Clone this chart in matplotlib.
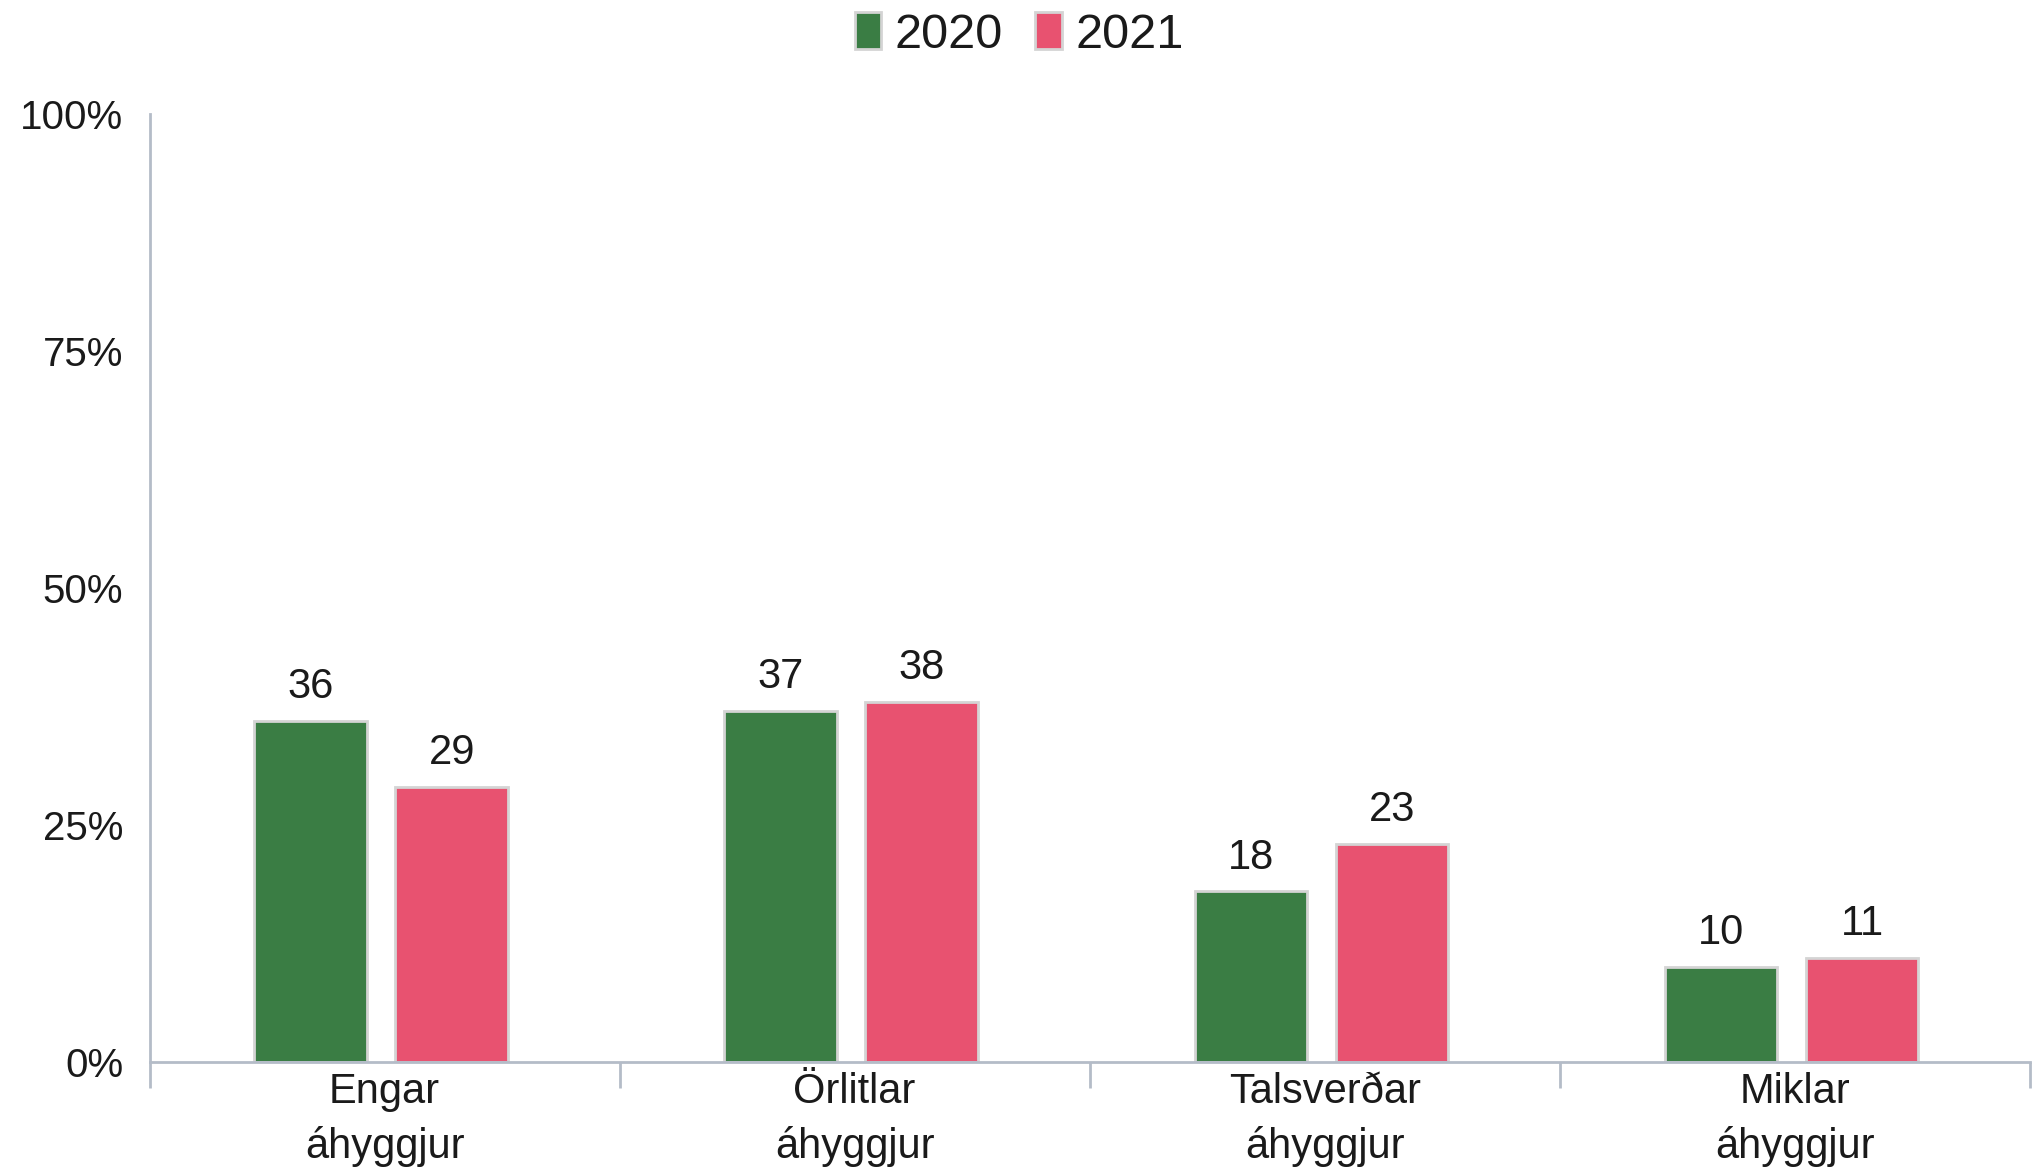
import numpy as np
import matplotlib
matplotlib.use("Agg")
import matplotlib.pyplot as plt
from matplotlib.ticker import FixedLocator, NullFormatter

categories = ["Engar\náhyggjur", "Örlitlar\náhyggjur", "Talsverðar\náhyggjur", "Miklar\náhyggjur"]
years = ["2020", "2021"]
values_2020 = [36, 37, 18, 10]
values_2021 = [29, 38, 23, 11]
yticks = [0, 25, 50, 75, 100]
ytick_labels = ["0%", "25%", "50%", "75%", "100%"]

GREEN = "#3a7d44"
PINK = "#e85270"
AXIS = "#b4bcc8"
TEXT = "#1a1a1a"

matplotlib.rcParams.update({
    "font.family": ["Liberation Sans", "DejaVu Sans"],
    "text.color": TEXT,
})

fig = plt.figure(figsize=(20.38, 11.68), dpi=100)
ax = fig.add_axes([0.0734, 0.0908, 0.9226, 0.8112])

x = np.arange(len(categories))
off = 0.15
w = 0.24
for vals, color, dx, name in [(values_2020, GREEN, -off, years[0]),
                               (values_2021, PINK, off, years[1])]:
    bars = ax.bar(x + dx - 0.007, vals, width=w, color=color, edgecolor="#d4d4d4",
                  linewidth=2.0, label=name, zorder=2)
    for b, v in zip(bars, vals):
        ax.annotate(f"{v}", (b.get_x() + b.get_width() / 2, v),
                    xytext=(0, 10), textcoords="offset points",
                    ha="center", va="bottom", fontsize=30, color=TEXT)

ax.set_xlim(-0.5, len(categories) - 0.5)
ax.set_ylim(0, 100)
ax.set_yticks(yticks)
ax.set_yticklabels(ytick_labels)
ax.tick_params(axis="y", length=0, pad=19, labelsize=29, labelcolor=TEXT)

# category boundaries as major ticks, labels on minor ticks at centres
ax.xaxis.set_major_locator(FixedLocator(np.arange(-0.5, len(categories), 1.0)))
ax.xaxis.set_major_formatter(NullFormatter())
ax.xaxis.set_minor_locator(FixedLocator(x))
ax.set_xticklabels(categories, minor=True)
ax.tick_params(axis="x", which="major", length=19, width=2, color=AXIS, direction="out")
ax.tick_params(axis="x", which="minor", length=0, pad=7, labelsize=30, labelcolor=TEXT)
for lab in ax.get_xticklabels(minor=True):
    lab.set_linespacing(1.45)

for s in ["top", "right"]:
    ax.spines[s].set_visible(False)
for s in ["left", "bottom"]:
    ax.spines[s].set_color(AXIS)
    ax.spines[s].set_linewidth(2)

fig.legend(loc="center", bbox_to_anchor=(0.5, 0.97), ncol=2, frameon=False,
           fontsize=35, handlelength=0.55, handleheight=0.8,
           handletextpad=0.27, columnspacing=0.67, borderpad=0)

fig.savefig("out.png", dpi=100, facecolor="white")
